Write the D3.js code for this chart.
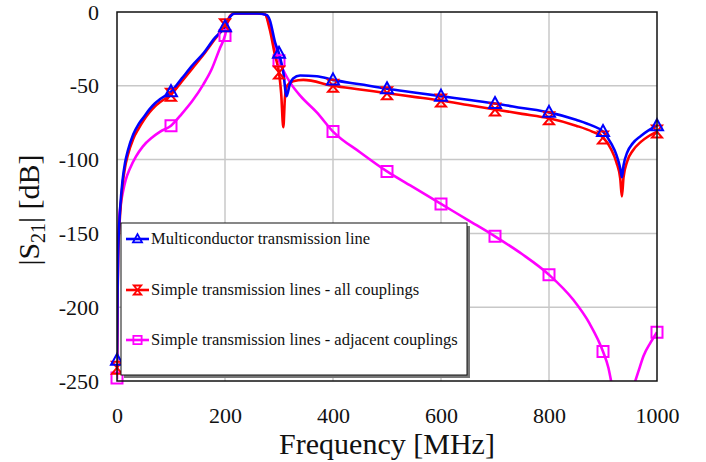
<!DOCTYPE html>
<html>
<head>
<meta charset="utf-8">
<script src="https://cdn.jsdelivr.net/npm/d3@7"></script>
<style>
    body { margin: 0; background: #fff; }
    text { font-family: "Liberation Serif", "Times New Roman", serif; fill: #111; }
</style>
</head>
<body>
<svg id="chart" width="706" height="462"></svg>
<script>

// Multiconductor transmission line (blue)
var mtlFreq = [0, 1, 2, 4, 6, 10, 15, 20, 30, 40, 50, 60, 70, 80, 100, 120, 140, 160, 180, 200, 210, 218, 230, 260, 277, 283, 293, 300, 308, 314, 320, 326, 339, 370, 400, 450, 500, 550, 600, 650, 700, 750, 800, 850, 880, 900, 915, 925, 932, 935, 938, 945, 955, 970, 985, 1000];
var mtlDb = [-236, -190, -165, -145, -132, -115, -102, -94, -83, -76, -71, -66, -62, -59, -54, -45, -36, -28, -18, -10, -3, -1, -1, -1, -2, -5.5, -21, -28, -41, -57, -49, -45, -43, -43.5, -46, -49, -52, -54.5, -57, -59.5, -62, -65, -68, -73, -77, -81, -89, -97, -106, -112, -104, -95, -89, -84, -80, -77];

// Simple transmission lines - all couplings (red)
var allFreq = [0, 1, 2, 4, 6, 10, 15, 20, 30, 40, 50, 60, 70, 80, 100, 120, 140, 160, 180, 200, 210, 216, 240, 265, 274, 283, 293, 300, 304, 308, 311, 315, 326, 345, 400, 450, 500, 550, 600, 650, 700, 750, 800, 850, 880, 900, 915, 925, 932, 935, 938, 945, 955, 970, 985, 1000];
var allDb = [-241, -195, -168, -148, -136, -118, -105, -97, -86, -79, -73, -68, -64, -61, -56, -47, -38, -29, -19, -9, -2.5, -1, -1, -1, -1.5, -12, -30, -41, -55, -78, -58, -50, -47, -46, -50, -52.5, -55, -57.5, -60, -63, -66, -69, -72, -77, -81, -85, -93, -102, -113, -125, -112, -101, -94, -88, -84, -81];

// Simple transmission lines - adjacent couplings (magenta), null = off the chart
var adjFreq = [0, 1, 2, 4, 7, 11, 16, 24, 35, 48, 65, 80, 100, 120, 140, 160, 175, 190, 200, 206, 213, 222, 250, 274, 283, 293, 300, 310, 321, 340, 370, 400, 450, 500, 550, 600, 650, 700, 750, 800, 845, 875, 900, 910, 916, 936, 958, 966, 975, 988, 1000];
var adjDb = [-249, -200, -160, -140, -130, -122, -114, -106, -98, -91, -85, -81, -77, -69, -60, -49, -39, -25, -16, -6, -1.5, -1, -1, -1.5, -10, -25, -33, -41, -48, -57, -68, -81, -95, -108, -119, -130, -141, -152, -164, -178, -195, -211, -230, -241, -252, null, -252, -243, -233, -224, -217];

var markerFreq = [0, 100, 200, 300, 400, 500, 600, 700, 800, 900, 1000];
var xTicks = [0, 200, 400, 600, 800, 1000];
var yTicks = [0, -50, -100, -150, -200, -250];
var legendLabels = ["Multiconductor transmission line",
    "Simple transmission lines - all couplings",
    "Simple transmission lines - adjacent couplings"];

var svg = d3.select("#chart");

var plot = {"left": 117, "top": 12, "width": 540, "height": 369};

var xScale = d3.scaleLinear().domain([0, 1000]).range([plot.left, plot.left + plot.width]);
var yScale = d3.scaleLinear().domain([-250, 0]).range([plot.top + plot.height, plot.top]);

// grid
svg.append("g").selectAll("line.vgrid")
    .data(xTicks.slice(1, -1))
    .enter().append("line")
    .attr("x1", function (d) { return xScale(d); })
    .attr("x2", function (d) { return xScale(d); })
    .attr("y1", plot.top)
    .attr("y2", plot.top + plot.height)
    .attr("stroke", "#c8c8c8")
    .attr("stroke-width", 1.5);

svg.append("g").selectAll("line.hgrid")
    .data(yTicks.slice(1, -1))
    .enter().append("line")
    .attr("x1", plot.left)
    .attr("x2", plot.left + plot.width)
    .attr("y1", function (d) { return yScale(d); })
    .attr("y2", function (d) { return yScale(d); })
    .attr("stroke", "#c8c8c8")
    .attr("stroke-width", 1.5);

// axes (labels only, frame drawn below)
var plainNumber = function (d) { return String(d); };

var xAxis = svg.append("g")
    .attr("transform", "translate(0," + (plot.top + plot.height) + ")")
    .call(d3.axisBottom(xScale).tickValues(xTicks).tickFormat(plainNumber).tickSize(0).tickPadding(26));
var yAxis = svg.append("g")
    .attr("transform", "translate(" + plot.left + ",0)")
    .call(d3.axisLeft(yScale).tickValues(yTicks).tickFormat(plainNumber).tickSize(0).tickPadding(18));

[xAxis, yAxis].forEach(function (a) {
    a.select(".domain").remove();
    a.selectAll("text")
        .attr("font-family", "Liberation Serif, serif")
        .attr("font-size", 22)
        .attr("fill", "#111");
});

svg.append("defs").append("clipPath")
    .attr("id", "plotClip")
    .append("rect")
    .attr("x", plot.left)
    .attr("y", plot.top)
    .attr("width", plot.width)
    .attr("height", plot.height);

var series = [
    {"freq": adjFreq, "db": adjDb, "color": "#ff00ff", "marker": "square"},
    {"freq": allFreq, "db": allDb, "color": "#ff0000", "marker": "hourglass"},
    {"freq": mtlFreq, "db": mtlDb, "color": "#0000ff", "marker": "triangle"}
];

var markerPath = {
    "triangle": "M0,-6.5L6,4.5L-6,4.5Z",
    "hourglass": "M-5,-6L5,-6L-5,6L5,6Z",
    "square": "M-5.5,-5.5L5.5,-5.5L5.5,5.5L-5.5,5.5Z"
};

var line = d3.line()
    .defined(function (d) { return d.db !== null; })
    .x(function (d) { return xScale(d.f); })
    .y(function (d) { return yScale(d.db); })
    .curve(d3.curveMonotoneX);

var curves = svg.append("g").attr("clip-path", "url(#plotClip)");

series.forEach(function (s) {
    var pts = s.freq.map(function (f, i) {
        return {"f": f, "db": s.db[i]};
    });
    curves.append("path")
        .datum(pts)
        .attr("d", line)
        .attr("fill", "none")
        .attr("stroke", s.color)
        .attr("stroke-width", 2.6)
        .attr("stroke-linejoin", "round");

    var marks = pts.filter(function (d) {
        return markerFreq.indexOf(d.f) >= 0 && d.db !== null;
    });
    svg.append("g").selectAll("path")
        .data(marks)
        .enter().append("path")
        .attr("transform", function (d) {
            return "translate(" + xScale(d.f) + "," + yScale(Math.max(d.db, -248)) + ")";
        })
        .attr("d", markerPath[s.marker])
        .attr("fill", "none")
        .attr("stroke", s.color)
        .attr("stroke-width", 2);
});

// frame
svg.append("rect")
    .attr("x", plot.left)
    .attr("y", plot.top)
    .attr("width", plot.width)
    .attr("height", plot.height)
    .attr("fill", "none")
    .attr("stroke", "#111")
    .attr("stroke-width", 1.5);

// legend
var legend = svg.append("g").attr("transform", "translate(121,223)");
legend.append("rect")
    .attr("x", 3).attr("y", 3)
    .attr("width", 346).attr("height", 152)
    .attr("fill", "#777");
legend.append("rect")
    .attr("x", 0).attr("y", 0)
    .attr("width", 346).attr("height", 152)
    .attr("fill", "#fff")
    .attr("stroke", "#111")
    .attr("stroke-width", 1);

var legendOrder = [series[2], series[1], series[0]];
var entries = legend.selectAll("g.entry")
    .data(legendOrder)
    .enter().append("g")
    .attr("transform", function (d, i) { return "translate(0," + [16, 67, 117][i] + ")"; });

entries.append("line")
    .attr("x1", 5).attr("x2", 28)
    .attr("stroke", function (d) { return d.color; })
    .attr("stroke-width", 2.6);
entries.append("path")
    .attr("transform", "translate(16.5,0) scale(0.75)")
    .attr("d", function (d) { return markerPath[d.marker]; })
    .attr("fill", "none")
    .attr("stroke", function (d) { return d.color; })
    .attr("stroke-width", 2.4);
entries.append("text")
    .attr("x", 30)
    .attr("dy", "0.33em")
    .attr("font-size", 16.5)
    .text(function (d, i) { return legendLabels[i]; });

// axis titles
svg.append("text")
    .attr("x", plot.left + plot.width / 2)
    .attr("y", 454)
    .attr("text-anchor", "middle")
    .attr("font-size", 30)
    .text("Frequency [MHz]");

var yTitle = svg.append("text")
    .attr("transform", "translate(39,210) rotate(-90)")
    .attr("text-anchor", "middle")
    .attr("font-size", 30);
yTitle.append("tspan").text("|S");
yTitle.append("tspan").attr("font-size", 20).attr("dy", 6).text("21");
yTitle.append("tspan").attr("dy", -6).text("| [dB]");

</script>
</body>
</html>
